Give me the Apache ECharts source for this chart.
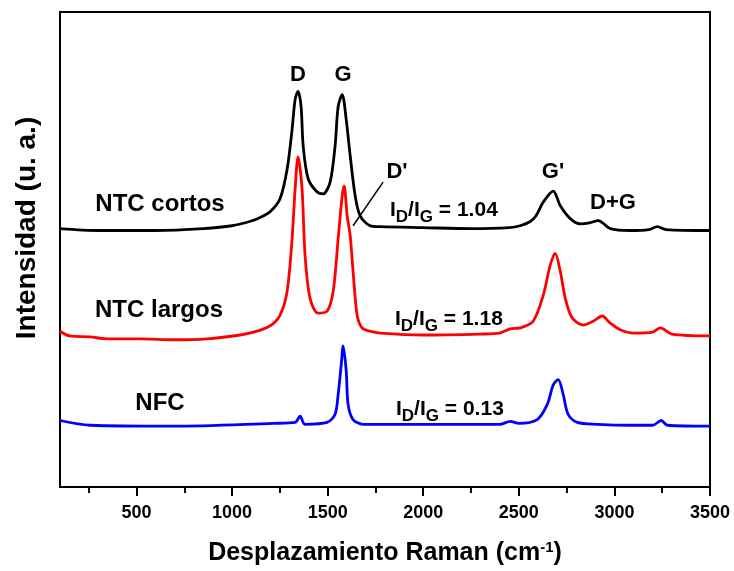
<!DOCTYPE html>
<html>
<head>
<meta charset="utf-8">
<script src="https://cdn.jsdelivr.net/npm/echarts@6/dist/echarts.min.js"></script>
<style>
  html, body { margin: 0; padding: 0; background: #fff; }
  #chart { width: 734px; height: 571px; }
</style>
</head>
<body>
<div id="chart"></div>
<script>
// Raman shift (cm-1) and intensity
const cortosX = [100, 300, 600, 850, 1000, 1100, 1150, 1200, 1251, 1288, 1314, 1330, 1345, 1361, 1372, 1398, 1445, 1476, 1513, 1539, 1555, 1576, 1597, 1618, 1644, 1670, 1722, 1775, 2000, 2250, 2450, 2507, 2560, 2590, 2628, 2680, 2717, 2769, 2821, 2870, 2915, 2978, 3083, 3180, 3224, 3270, 3500];
const cortosY = [54.4, 54.0, 54.0, 54.4, 55.0, 56.0, 56.8, 58.0, 60.7, 66.9, 75.3, 81.6, 83.3, 80.1, 71.8, 64.9, 62.1, 61.7, 64.2, 71.8, 80.1, 82.6, 77.4, 69.7, 61.3, 57.1, 55.0, 54.8, 54.6, 54.4, 54.6, 55.0, 55.9, 57.1, 60.0, 62.3, 59.2, 56.5, 55.4, 55.6, 56.1, 54.4, 54.0, 54.2, 54.8, 54.2, 54.0];

const largosX = [100, 152, 257, 346, 519, 691, 869, 1042, 1131, 1199, 1251, 1288, 1314, 1330, 1345, 1366, 1382, 1408, 1450, 1497, 1529, 1555, 1576, 1586, 1602, 1618, 1633, 1654, 1680, 1722, 1775, 2000, 2300, 2400, 2455, 2507, 2575, 2628, 2664, 2690, 2717, 2743, 2779, 2837, 2889, 2936, 2978, 3031, 3099, 3200, 3240, 3300, 3500];
const largosY = [32.8, 31.8, 31.6, 31.2, 31.2, 31.0, 31.2, 32.0, 32.8, 33.9, 36.2, 41.2, 52.3, 62.8, 69.5, 62.8, 48.7, 39.7, 36.6, 37.0, 41.2, 52.3, 61.3, 63.4, 57.1, 52.9, 45.4, 36.2, 33.5, 32.8, 32.4, 32.0, 32.2, 32.4, 33.3, 33.5, 34.9, 40.4, 46.7, 49.2, 45.4, 39.7, 35.6, 34.1, 34.9, 36.0, 34.5, 33.1, 32.4, 32.6, 33.5, 32.2, 31.8];

const nfcX = [100, 257, 691, 1215, 1330, 1356, 1382, 1497, 1539, 1555, 1571, 1581, 1597, 1607, 1633, 1686, 2000, 2400, 2455, 2500, 2596, 2649, 2680, 2706, 2732, 2758, 2806, 2910, 3083, 3200, 3245, 3277, 3500];
const nfcY = [14.0, 13.0, 12.8, 13.4, 13.6, 14.9, 13.2, 13.6, 15.3, 19.5, 25.7, 29.7, 24.5, 17.4, 14.2, 13.2, 13.2, 13.2, 13.8, 13.4, 14.2, 17.4, 21.5, 22.6, 19.5, 15.3, 13.6, 13.2, 13.0, 13.0, 14.0, 13.0, 12.8];

const majorTicks = [500, 1000, 1500, 2000, 2500, 3000, 3500];
const minorTicks = [250, 750, 1250, 1750, 2250, 2750, 3250];

const pairs = (xs, ys) => xs.map((x, i) => [x, ys[i]]);

const FONT = '"Liberation Sans", Arial, sans-serif';

let myChart = echarts.init(document.getElementById('chart'));

const lineSeries = (name, xs, ys, color) => ({
  name: name,
  type: 'line',
  data: pairs(xs, ys),
  showSymbol: false,
  smooth: 0.3,
  lineStyle: { color: color, width: 2.8 },
  silent: true
});

const blackSeries = lineSeries('NTC cortos', cortosX, cortosY, '#000000');
// leader line from the D' label to the shoulder
blackSeries.markLine = {
  silent: true,
  symbol: ['none', 'none'],
  label: { show: false },
  lineStyle: { color: '#000', width: 1.5, type: 'solid' },
  data: [[{ coord: [1790, 64.2] }, { coord: [1633, 55.0] }]]
};

const txt = (text, x, y, size, rotation) => ({
  type: 'text',
  x: x,
  y: y,
  rotation: rotation || 0,
  style: {
    text: text,
    font: 'bold ' + size + 'px ' + FONT,
    fill: '#000',
    align: 'center',
    verticalAlign: 'middle'
  }
});

const ratio = (value, x, y) => ({
  type: 'text',
  x: x,
  y: y,
  style: {
    text: '{i|I}{s|D}{i|/I}{s|G}{i| = ' + value + '}',
    align: 'left',
    verticalAlign: 'middle',
    rich: {
      i: { font: 'bold 21px ' + FONT, fill: '#000' },
      s: { font: 'bold 17px ' + FONT, fill: '#000', padding: [14, 0, 0, 0] }
    }
  }
});

myChart.setOption({
  animation: false,
  backgroundColor: '#fff',
  grid: {
    left: 60,
    right: 24,
    top: 12,
    bottom: 81,
    show: true,
    borderColor: '#000',
    borderWidth: 2,
    containLabel: false
  },
  xAxis: [
    {
      type: 'value',
      min: 100,
      max: 3500,
      name: '{a|Desplazamiento Raman (cm}{sup|-1}{a|)}',
      nameLocation: 'middle',
      nameGap: 53,
      nameTextStyle: {
        rich: {
          a: { fontFamily: FONT, fontWeight: 'bold', fontSize: 25, color: '#000' },
          sup: { fontFamily: FONT, fontWeight: 'bold', fontSize: 15, color: '#000', padding: [0, 0, 12, 0] }
        }
      },
      axisLine: { show: true, lineStyle: { color: '#000', width: 2 } },
      axisTick: { show: true, inside: false, length: 9, customValues: majorTicks, lineStyle: { color: '#000', width: 2 } },
      axisLabel: {
        customValues: majorTicks,
        formatter: (v) => String(v),
        margin: 17,
        fontFamily: FONT,
        fontWeight: 'bold',
        fontSize: 18,
        color: '#000'
      },
      splitLine: { show: false }
    },
    {
      type: 'value',
      min: 100,
      max: 3500,
      position: 'bottom',
      axisLine: { show: false },
      axisTick: { show: true, inside: false, length: 6, customValues: minorTicks, lineStyle: { color: '#000', width: 2 } },
      axisLabel: { show: false },
      splitLine: { show: false }
    }
  ],
  yAxis: {
    type: 'value',
    min: 0,
    max: 100,
    axisLine: { show: true, lineStyle: { color: '#000', width: 2 } },
    axisTick: { show: false },
    axisLabel: { show: false },
    splitLine: { show: false }
  },
  series: [
    blackSeries,
    lineSeries('NTC largos', largosX, largosY, '#ff0000'),
    lineSeries('NFC', nfcX, nfcY, '#0000ff')
  ],
  graphic: [
    txt('Intensidad (u. a.)', 27, 228, 28, Math.PI / 2),
    txt('NTC cortos', 160, 204, 24),
    txt('NTC largos', 159, 310, 24),
    txt('NFC', 160, 403, 24),
    txt('D', 298, 75, 22),
    txt('G', 343, 75, 22),
    txt("D'", 397, 172, 22),
    txt("G'", 553, 172, 22),
    txt('D+G', 613, 203, 22),
    ratio('1.04', 390, 210),
    ratio('1.18', 395, 319),
    ratio('0.13', 396, 409)
  ]
});
</script>
</body>
</html>
